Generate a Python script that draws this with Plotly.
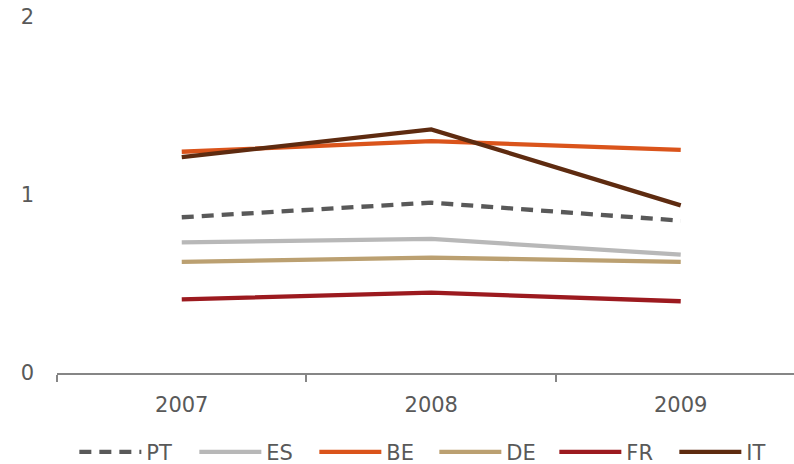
import plotly.graph_objects as go

years = ["2007", "2008", "2009"]

pt = [0.875, 0.957, 0.856]
es = [0.734, 0.753, 0.665]
be = [1.243, 1.303, 1.253]
de = [0.624, 0.648, 0.624]
fr = [0.414, 0.451, 0.403]
it = [1.213, 1.369, 0.942]

series = [
    ("PT", pt, "#595959", "12px,8px"),
    ("ES", es, "#B8B8B8", "solid"),
    ("BE", be, "#DA541B", "solid"),
    ("DE", de, "#BBA071", "solid"),
    ("FR", fr, "#9C1A1F", "solid"),
    ("IT", it, "#5E2B10", "solid"),
]

font_family = "DejaVu Sans, Verdana, sans-serif"
text_color = "#595959"

fig = go.Figure()
for name, vals, color, dash in series:
    fig.add_trace(go.Scatter(
        x=years, y=vals, name=name, mode="lines",
        line=dict(color=color, width=4.3, dash=dash),
    ))

fig.update_layout(
    width=794, height=464,
    margin=dict(l=57, r=0, t=17, b=91, autoexpand=False),
    paper_bgcolor="white", plot_bgcolor="white",
    font=dict(family=font_family, size=21, color=text_color),
    showlegend=True,
    legend=dict(
        orientation="h", x=0.512, xanchor="center", y=-0.165, yanchor="top",
        font=dict(size=21, color=text_color),
        itemwidth=62, entrywidth=43, entrywidthmode="pixels",
        traceorder="normal", bgcolor="rgba(0,0,0,0)",
    ),
)

fig.update_xaxes(
    type="category", range=[-0.5, 2.454],
    showline=True, linecolor="#868686", linewidth=1.5,
    ticks="outside", tickson="boundaries", ticklen=7,
    tickcolor="#868686", tickwidth=1.5,
    showgrid=False, zeroline=False,
    tickfont=dict(size=21, color=text_color),
    ticklabelstandoff=12,
)
fig.update_yaxes(
    range=[0, 2], tickvals=[0, 1, 2], ticktext=["0", "1", "2"],
    showline=False, showgrid=False, zeroline=False,
    ticks="", ticklabelstandoff=22,
    tickfont=dict(size=21, color=text_color),
)

fig.write_html("out.html")
